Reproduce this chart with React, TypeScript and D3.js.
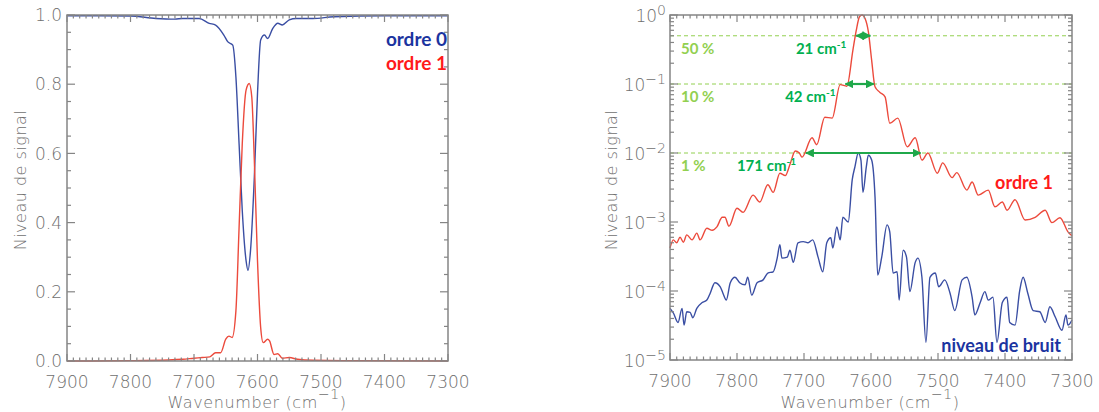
import React from "react";
import * as d3 from "d3";

// ---------- DATA ----------
const xTicks = [7900, 7800, 7700, 7600, 7500, 7400, 7300];
const linTicks = [0.0, 0.2, 0.4, 0.6, 0.8, 1.0];
const logTicks = [1e-5, 1e-4, 1e-3, 1e-2, 1e-1, 1];

// Left panel (linear)
const leftWn0 = [7900, 7850, 7800, 7760, 7730, 7718, 7692, 7676, 7666, 7653, 7647, 7639, 7634, 7629, 7624, 7618, 7615, 7611, 7605, 7600, 7595, 7589, 7584, 7576, 7568, 7561, 7550, 7539, 7513, 7480, 7400, 7300];
const leftOrdre0 = [0.998, 0.998, 0.997, 0.99, 0.988, 0.99, 0.99, 0.976, 0.971, 0.942, 0.923, 0.913, 0.821, 0.628, 0.435, 0.29, 0.262, 0.319, 0.531, 0.773, 0.928, 0.942, 0.932, 0.961, 0.976, 0.971, 0.986, 0.99, 0.99, 0.995, 0.998, 0.998];
const leftWn1 = [7900, 7800, 7740, 7718, 7700, 7687, 7675, 7666, 7658, 7650, 7645, 7640, 7634, 7629, 7624, 7618, 7613, 7609, 7605, 7600, 7595, 7591, 7584, 7581, 7574, 7568, 7561, 7550, 7537, 7513, 7450, 7300];
const leftOrdre1 = [0.0, 0.001, 0.003, 0.005, 0.008, 0.01, 0.012, 0.024, 0.024, 0.063, 0.072, 0.068, 0.145, 0.386, 0.628, 0.783, 0.802, 0.763, 0.58, 0.29, 0.097, 0.053, 0.063, 0.058, 0.019, 0.021, 0.008, 0.01, 0.005, 0.002, 0.001, 0.0];

// Right panel (log)
const rightWn1 = [7900, 7895, 7890, 7885, 7880, 7875, 7867, 7860, 7855, 7845, 7837, 7830, 7822, 7818, 7812, 7800, 7791, 7776, 7766, 7754, 7746, 7736, 7728, 7721, 7713, 7707, 7703, 7688, 7681, 7669, 7658, 7646, 7636, 7627, 7622, 7617, 7613, 7609, 7604, 7599, 7594, 7587, 7579, 7572, 7560, 7546, 7534, 7524, 7515, 7501, 7493, 7479, 7472, 7457, 7449, 7440, 7425, 7415, 7404, 7397, 7385, 7370, 7355, 7340, 7330, 7318, 7306, 7300];
const rightOrdre1 = [4.2e-4, 5.5e-4, 5.0e-4, 6.0e-4, 5.1e-4, 6.5e-4, 5.5e-4, 6.9e-4, 5.5e-4, 8.1e-4, 7.6e-4, 8.5e-4, 1.17e-3, 1.17e-3, 8.7e-4, 1.58e-3, 1.38e-3, 2.45e-3, 1.95e-3, 3.47e-3, 2.69e-3, 5.1e-3, 4.7e-3, 6.8e-3, 1.07e-2, 1.0e-2, 8.7e-3, 1.66e-2, 1.32e-2, 3.3e-2, 3.2e-2, 9.8e-2, 9.3e-2, 0.31, 0.6, 0.95, 1.0, 0.9, 0.58, 0.22, 9.1e-2, 7.6e-2, 6.5e-2, 2.7e-2, 3.2e-2, 1.23e-2, 1.66e-2, 7.9e-3, 1.0e-2, 5.1e-3, 7.2e-3, 4.4e-3, 5.2e-3, 2.9e-3, 3.8e-3, 2.45e-3, 2.9e-3, 1.66e-3, 1.95e-3, 1.48e-3, 2.1e-3, 1.07e-3, 1.17e-3, 1.48e-3, 9.8e-4, 1.15e-3, 7.2e-4, 6.3e-4];
const rightWnNoise = [7900, 7895, 7888, 7882, 7879, 7875, 7870, 7866, 7860, 7852, 7845, 7840, 7833, 7825, 7821, 7816, 7810, 7803, 7796, 7788, 7784, 7778, 7770, 7761, 7754, 7746, 7740, 7736, 7733, 7725, 7721, 7716, 7709, 7701, 7694, 7687, 7679, 7672, 7666, 7660, 7657, 7651, 7646, 7642, 7634, 7628, 7624, 7619, 7615, 7612, 7607, 7604, 7599, 7594, 7590, 7584, 7576, 7572, 7567, 7561, 7558, 7552, 7547, 7542, 7534, 7530, 7524, 7518, 7512, 7504, 7499, 7490, 7482, 7475, 7464, 7457, 7449, 7445, 7437, 7430, 7425, 7418, 7412, 7404, 7397, 7393, 7385, 7378, 7373, 7366, 7358, 7348, 7340, 7333, 7325, 7315, 7309, 7306, 7300];
const rightNoise = [5.6e-5, 4.8e-5, 3.5e-5, 5.6e-5, 3.2e-5, 5.0e-5, 4.9e-5, 4.1e-5, 5.6e-5, 6.8e-5, 7.4e-5, 9.3e-5, 1.32e-4, 1.15e-4, 9.3e-5, 7.4e-5, 1.32e-4, 1.58e-4, 1.32e-4, 1.23e-4, 1.58e-4, 8.7e-5, 1.32e-4, 1.45e-4, 1.82e-4, 1.9e-4, 3.0e-4, 4.7e-4, 3.0e-4, 3.1e-4, 3.9e-4, 2.6e-4, 5.0e-4, 5.2e-4, 5.0e-4, 5.5e-4, 3.1e-4, 1.9e-4, 5.0e-4, 5.9e-4, 4.2e-4, 8.5e-4, 5.5e-4, 1.17e-3, 1.0e-3, 4.1e-3, 6.3e-3, 1.0e-2, 7.9e-3, 2.7e-3, 6.3e-3, 9.3e-3, 7.9e-3, 2.3e-3, 1.7e-4, 3.1e-4, 9.1e-4, 7.2e-4, 1.82e-4, 1.9e-4, 7.4e-5, 3.9e-4, 3.1e-4, 9.8e-5, 2.6e-4, 3.0e-4, 1.58e-4, 1.8e-5, 1.58e-4, 1.82e-4, 1.15e-4, 1.45e-4, 9.3e-5, 5.2e-5, 1.45e-4, 1.58e-4, 8.1e-5, 4.5e-5, 6.8e-5, 9.8e-5, 7.4e-5, 8.1e-5, 1.8e-5, 6.8e-5, 8.1e-5, 3.5e-5, 3.2e-5, 1.02e-4, 1.58e-4, 9.3e-5, 5.2e-5, 5.0e-5, 3.5e-5, 5.9e-5, 4.2e-5, 2.7e-5, 4.5e-5, 3.2e-5, 3.8e-5];

// Width annotations
const levels = [0.5, 0.1, 0.01];
const levelLabels = ["50 %", "10 %", "1 %"];
const widthLabels = ["21", "42", "171"];
const widthStart = [7622, 7638, 7697];
const widthEnd = [7601, 7596, 7526];

// ---------- STYLE ----------
const AX = "#858585";
const TXT = "#6f6f6f";
const FONT = "'DejaVu Sans', sans-serif";
const LBL = "Lato, 'Open Sans', sans-serif";
const BLUE = "#3a4ea3";
const RED = "#ec4a3c";
const NAVY = "#1b34a0";
const LGREEN = "#92d050";
const GREEN = "#00b050";
const ARROW = "#1fa84a";

type Ax = { x0: number; x1: number; y0: number; y1: number };

function Frame({ b, xs, ys, yMajor, yMinor }: any) {
  const xMaj = xTicks;
  const xMin = d3.range(7300, 7901, 10).filter((v) => v % 100 !== 0);
  const els: any[] = [];
  const Lx = 7, lx = 3.5, Ly = 8, ly = 4;
  xMaj.forEach((v, i) => {
    const x = xs(v);
    els.push(<line key={"xb" + i} x1={x} x2={x} y1={b.y0} y2={b.y0 - Lx} />);
    els.push(<line key={"xt" + i} x1={x} x2={x} y1={b.y1} y2={b.y1 + Lx} />);
  });
  xMin.forEach((v, i) => {
    const x = xs(v);
    els.push(<line key={"xbm" + i} x1={x} x2={x} y1={b.y0} y2={b.y0 - lx} />);
    els.push(<line key={"xtm" + i} x1={x} x2={x} y1={b.y1} y2={b.y1 + lx} />);
  });
  yMajor.forEach((v: number, i: number) => {
    const y = ys(v);
    els.push(<line key={"yl" + i} x1={b.x0} x2={b.x0 + Ly} y1={y} y2={y} />);
    els.push(<line key={"yr" + i} x1={b.x1} x2={b.x1 - Ly} y1={y} y2={y} />);
  });
  yMinor.forEach((v: number, i: number) => {
    const y = ys(v);
    els.push(<line key={"ylm" + i} x1={b.x0} x2={b.x0 + ly} y1={y} y2={y} />);
    els.push(<line key={"yrm" + i} x1={b.x1} x2={b.x1 - ly} y1={y} y2={y} />);
  });
  return (
    <g stroke={AX} strokeWidth={1.2} fill="none">
      {els}
      <rect x={b.x0} y={b.y1} width={b.x1 - b.x0} height={b.y0 - b.y1} strokeWidth={1.5} />
    </g>
  );
}

function XLabels({ b, xs, cx }: any) {
  return (
    <g fontFamily={FONT} fontWeight={200} fill={TXT} fontSize={17}>
      {xTicks.map((v, i) => (
        <text key={i} x={xs(v)} y={b.y0 + 27} textAnchor="middle">{v}</text>
      ))}
      <text x={cx} y={408} textAnchor="middle" fontSize={16} letterSpacing={0.6}>
        Wavenumber (cm<tspan dy={-9} fontSize={14}>−1</tspan><tspan dy={9}>)</tspan>
      </text>
    </g>
  );
}

function YTitle({ x, y }: any) {
  return (
    <text x={x} y={y} transform={`rotate(-90 ${x} ${y})`} textAnchor="middle" fontFamily={FONT} fontWeight={200} fill={TXT} fontSize={16} letterSpacing={0.5}>
      Niveau de signal
    </text>
  );
}

export default function App() {
  // left panel
  const bL: Ax = { x0: 67, x1: 448, y0: 361, y1: 15 };
  const xL = d3.scaleLinear().domain([7900, 7300]).range([bL.x0, bL.x1]);
  const yL = d3.scaleLinear().domain([0, 1]).range([bL.y0, bL.y1]);
  const linMinor = d3.range(0, 1.0001, 0.05).filter((v) => Math.abs(v * 5 - Math.round(v * 5)) > 1e-6);

  // right panel
  const bR: Ax = { x0: 670, x1: 1072, y0: 360, y1: 15 };
  const xR = d3.scaleLinear().domain([7900, 7300]).range([bR.x0, bR.x1]);
  const yR = d3.scaleLog().domain([1e-5, 1]).range([bR.y0, bR.y1]);
  const logMinor: number[] = [];
  for (let e = -5; e < 0; e++) for (let k = 2; k <= 9; k++) logMinor.push(k * Math.pow(10, e));

  const lineL = (wn: number[], vals: number[]) =>
    d3.line<number>().x((_, i) => xL(wn[i])).y((v) => yL(v)).curve(d3.curveMonotoneX)(vals) || "";
  const lineR = (wn: number[], vals: number[]) =>
    d3.line<number>().x((_, i) => xR(wn[i])).y((v) => yR(v)).curve(d3.curveMonotoneX)(vals) || "";

  return (
    <svg width={1099} height={412} style={{ position: "absolute", left: 0, top: 0, background: "#fff" }}>
      <defs>
        <marker id="ah" viewBox="0 0 10 10" refX={9} refY={5} markerWidth={4} markerHeight={4} orient="auto-start-reverse">
          <path d="M0,0 L10,5 L0,10 z" fill={ARROW} />
        </marker>
      </defs>
      <rect width={1099} height={412} fill="#fff" />

      {/* LEFT PANEL */}
      <path d={lineL(leftWn0, leftOrdre0)} fill="none" stroke={BLUE} strokeWidth={1.4} />
      <path d={lineL(leftWn1, leftOrdre1)} fill="none" stroke={RED} strokeWidth={1.4} />
      <Frame b={bL} xs={xL} ys={yL} yMajor={linTicks} yMinor={linMinor} />
      <g fontFamily={FONT} fontWeight={200} fill={TXT} fontSize={17}>
        {linTicks.map((v, i) => (
          <text key={i} x={bL.x0 - 5} y={yL(v)} dy="0.36em" textAnchor="end">{v.toFixed(1)}</text>
        ))}
      </g>
      <XLabels b={bL} xs={xL} cx={257} />
      <YTitle x={26} y={180} />
      <g fontFamily={LBL} fontWeight={700} fontSize={19}>
        <text x={447} y={46} textAnchor="end" fill={NAVY}>ordre 0</text>
        <text x={447} y={70} textAnchor="end" fill="#ff1a1a">ordre 1</text>
      </g>

      {/* RIGHT PANEL */}
      {levels.map((l, i) => (
        <line key={"lv" + i} x1={bR.x0} x2={bR.x1} y1={yR(l)} y2={yR(l)} stroke={LGREEN} strokeWidth={1} strokeDasharray="4,3" />
      ))}
      <path d={lineR(rightWnNoise, rightNoise)} fill="none" stroke={BLUE} strokeWidth={1.4} />
      <path d={lineR(rightWn1, rightOrdre1)} fill="none" stroke={RED} strokeWidth={1.4} />
      <Frame b={bR} xs={xR} ys={yR} yMajor={logTicks} yMinor={logMinor} />
      <g fontFamily={FONT} fontWeight={200} fill={TXT} fontSize={17}>
        {logTicks.map((v, i) => {
          const e = Math.round(Math.log10(v));
          return (
            <text key={i} x={bR.x0 - 4} y={yR(v)} dy="0.42em" textAnchor="end">
              10<tspan dy={-7} fontSize={14}>{e === 0 ? "0" : "−" + Math.abs(e)}</tspan>
            </text>
          );
        })}
      </g>
      <XLabels b={bR} xs={xR} cx={870} />
      <YTitle x={617} y={180} />

      {levels.map((l, i) => (
        <g key={"an" + i}>
          <line x1={xR(widthStart[i])} x2={xR(widthEnd[i])} y1={yR(l)} y2={yR(l)} stroke={ARROW} strokeWidth={2.2} markerStart="url(#ah)" markerEnd="url(#ah)" />
          <text x={681} y={yR(l) + 18} fontFamily={LBL} fontWeight={700} fontSize={15} fill={LGREEN}>{levelLabels[i]}</text>
        </g>
      ))}
      <g fontFamily={LBL} fontWeight={700} fontSize={15} fill={GREEN}>
        {levels.map((l, i) => (
          <text key={"wl" + i} x={xR(widthStart[i]) - 10} y={yR(l) + 18} textAnchor="end">
            {widthLabels[i]} cm<tspan dy={-6} fontSize={10}>-1</tspan>
          </text>
        ))}
      </g>
      <g fontFamily={LBL} fontWeight={700} fontSize={18}>
        <text x={1053} y={189} textAnchor="end" fill="#ff1a1a">ordre 1</text>
        <text x={1061} y={352} textAnchor="end" fill={NAVY}>niveau de bruit</text>
      </g>
    </svg>
  );
}
